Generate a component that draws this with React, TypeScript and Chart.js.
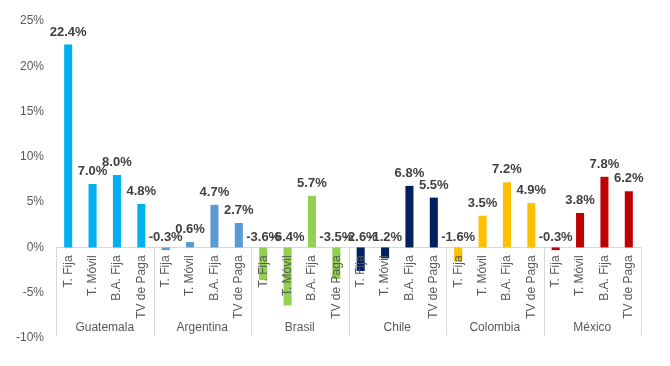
import React, { useEffect, useRef } from "react";
import { Chart, registerables } from "chart.js";

Chart.register(...registerables);

const countries = ["Guatemala", "Argentina", "Brasil", "Chile", "Colombia", "México"];
const services = ["T. Fija", "T. Móvil", "B.A. Fija", "TV de Paga"];
const countryColors = ["#00B0F0", "#5B9BD5", "#92D050", "#002060", "#FFC000", "#C00000"];

const guatemala = [22.4, 7.0, 8.0, 4.8];
const argentina = [-0.3, 0.6, 4.7, 2.7];
const brasil = [-3.6, -6.4, 5.7, -3.5];
const chile = [-2.6, -1.2, 6.8, 5.5];
const colombia = [-1.6, 3.5, 7.2, 4.9];
const mexico = [-0.3, 3.8, 7.8, 6.2];

const yTicks = [-10, -5, 0, 5, 10, 15, 20, 25];

const seriesByCountry = [guatemala, argentina, brasil, chile, colombia, mexico];

export default function App() {
  const ref = useRef<HTMLCanvasElement>(null);

  useEffect(() => {
    document.body.style.margin = "0";
    const labels: string[] = [];
    const values: number[] = [];
    const colors: string[] = [];
    seriesByCountry.forEach((arr, ci) => {
      arr.forEach((v, si) => {
        labels.push(countries[ci] + "|" + services[si]);
        values.push(v);
        colors.push(countryColors[ci]);
      });
    });

    const overlay = {
      id: "overlay",
      beforeDatasetsDraw(chart: any) {
        const { ctx, scales } = chart;
        const x = scales.x;
        const y = scales.y;
        const y0 = y.getPixelForValue(0);
        const left = chart.chartArea.left;
        const right = chart.chartArea.right;
        const n = labels.length;
        const step = (right - left) / n;
        ctx.save();
        ctx.strokeStyle = "#D9D9D9";
        ctx.lineWidth = 1;
        ctx.beginPath();
        ctx.moveTo(left, Math.round(y0) + 0.5);
        ctx.lineTo(right, Math.round(y0) + 0.5);
        ctx.stroke();
        const bottom = y0 + 88;
        for (let g = 0; g <= countries.length; g++) {
          const px = g < countries.length
            ? x.getPixelForValue(g * services.length) - step / 2
            : x.getPixelForValue(n - 1) + step / 2;
          const sx = Math.round(px) + 0.5;
          ctx.beginPath();
          ctx.moveTo(sx, y0);
          ctx.lineTo(sx, bottom);
          ctx.stroke();
        }
        ctx.restore();
      },
      afterDatasetsDraw(chart: any) {
        const { ctx, scales } = chart;
        const x = scales.x;
        const y = scales.y;
        const y0 = y.getPixelForValue(0);
        ctx.save();
        // value labels
        ctx.font = "bold 13px 'Liberation Sans', Arial, sans-serif";
        ctx.fillStyle = "#404040";
        ctx.textAlign = "center";
        ctx.textBaseline = "middle";
        values.forEach((v, i) => {
          const px = x.getPixelForValue(i);
          const py = y.getPixelForValue(Math.max(v, 0)) - (v >= 0 ? 12.5 : 10.5);
          ctx.fillText(v.toFixed(1) + "%", px, py);
        });
        // rotated service labels
        ctx.font = "12px 'Liberation Sans', Arial, sans-serif";
        ctx.fillStyle = "#595959";
        values.forEach((_, i) => {
          const px = x.getPixelForValue(i);
          const s = services[i % services.length];
          ctx.save();
          ctx.translate(px, y0 + 8);
          ctx.rotate(-Math.PI / 2);
          ctx.textAlign = "right";
          ctx.textBaseline = "middle";
          ctx.fillText(s, 0, 0);
          ctx.restore();
        });
        // group labels
        countries.forEach((c, ci) => {
          const a = x.getPixelForValue(ci * services.length);
          const b = x.getPixelForValue(ci * services.length + services.length - 1);
          ctx.textAlign = "center";
          ctx.textBaseline = "middle";
          ctx.fillText(c, (a + b) / 2, y0 + 80);
        });
        ctx.restore();
      },
    };

    const chart = new Chart(ref.current!, {
      type: "bar",
      data: {
        labels,
        datasets: [
          {
            data: values,
            backgroundColor: colors,
            borderWidth: 0,
            barPercentage: 0.33,
            categoryPercentage: 1,
          },
        ],
      },
      options: {
        animation: false,
        responsive: false,
        layout: { padding: { left: 0, right: 29, top: 21, bottom: 28 } },
        plugins: { legend: { display: false }, tooltip: { enabled: false } },
        scales: {
          x: { display: false },
          y: {
            min: -10,
            max: 25,
            afterBuildTicks: (scale: any) => {
              scale.ticks = yTicks.map((v) => ({ value: v }));
            },
            afterFit: (scale: any) => {
              scale.width = 56;
            },
            grid: { display: false, drawTicks: false },
            border: { display: false },
            ticks: {
              padding: 12,
              color: "#595959",
              font: { family: "'Liberation Sans', Arial, sans-serif", size: 12 },
              callback: (v: any) => v + "%",
            },
          },
        },
      },
      plugins: [overlay],
    });
    return () => chart.destroy();
  }, []);

  return (
    <div style={{ width: 670, height: 366, background: "#fff" }}>
      <canvas ref={ref} width={670} height={366} style={{ display: "block" }} />
    </div>
  );
}
